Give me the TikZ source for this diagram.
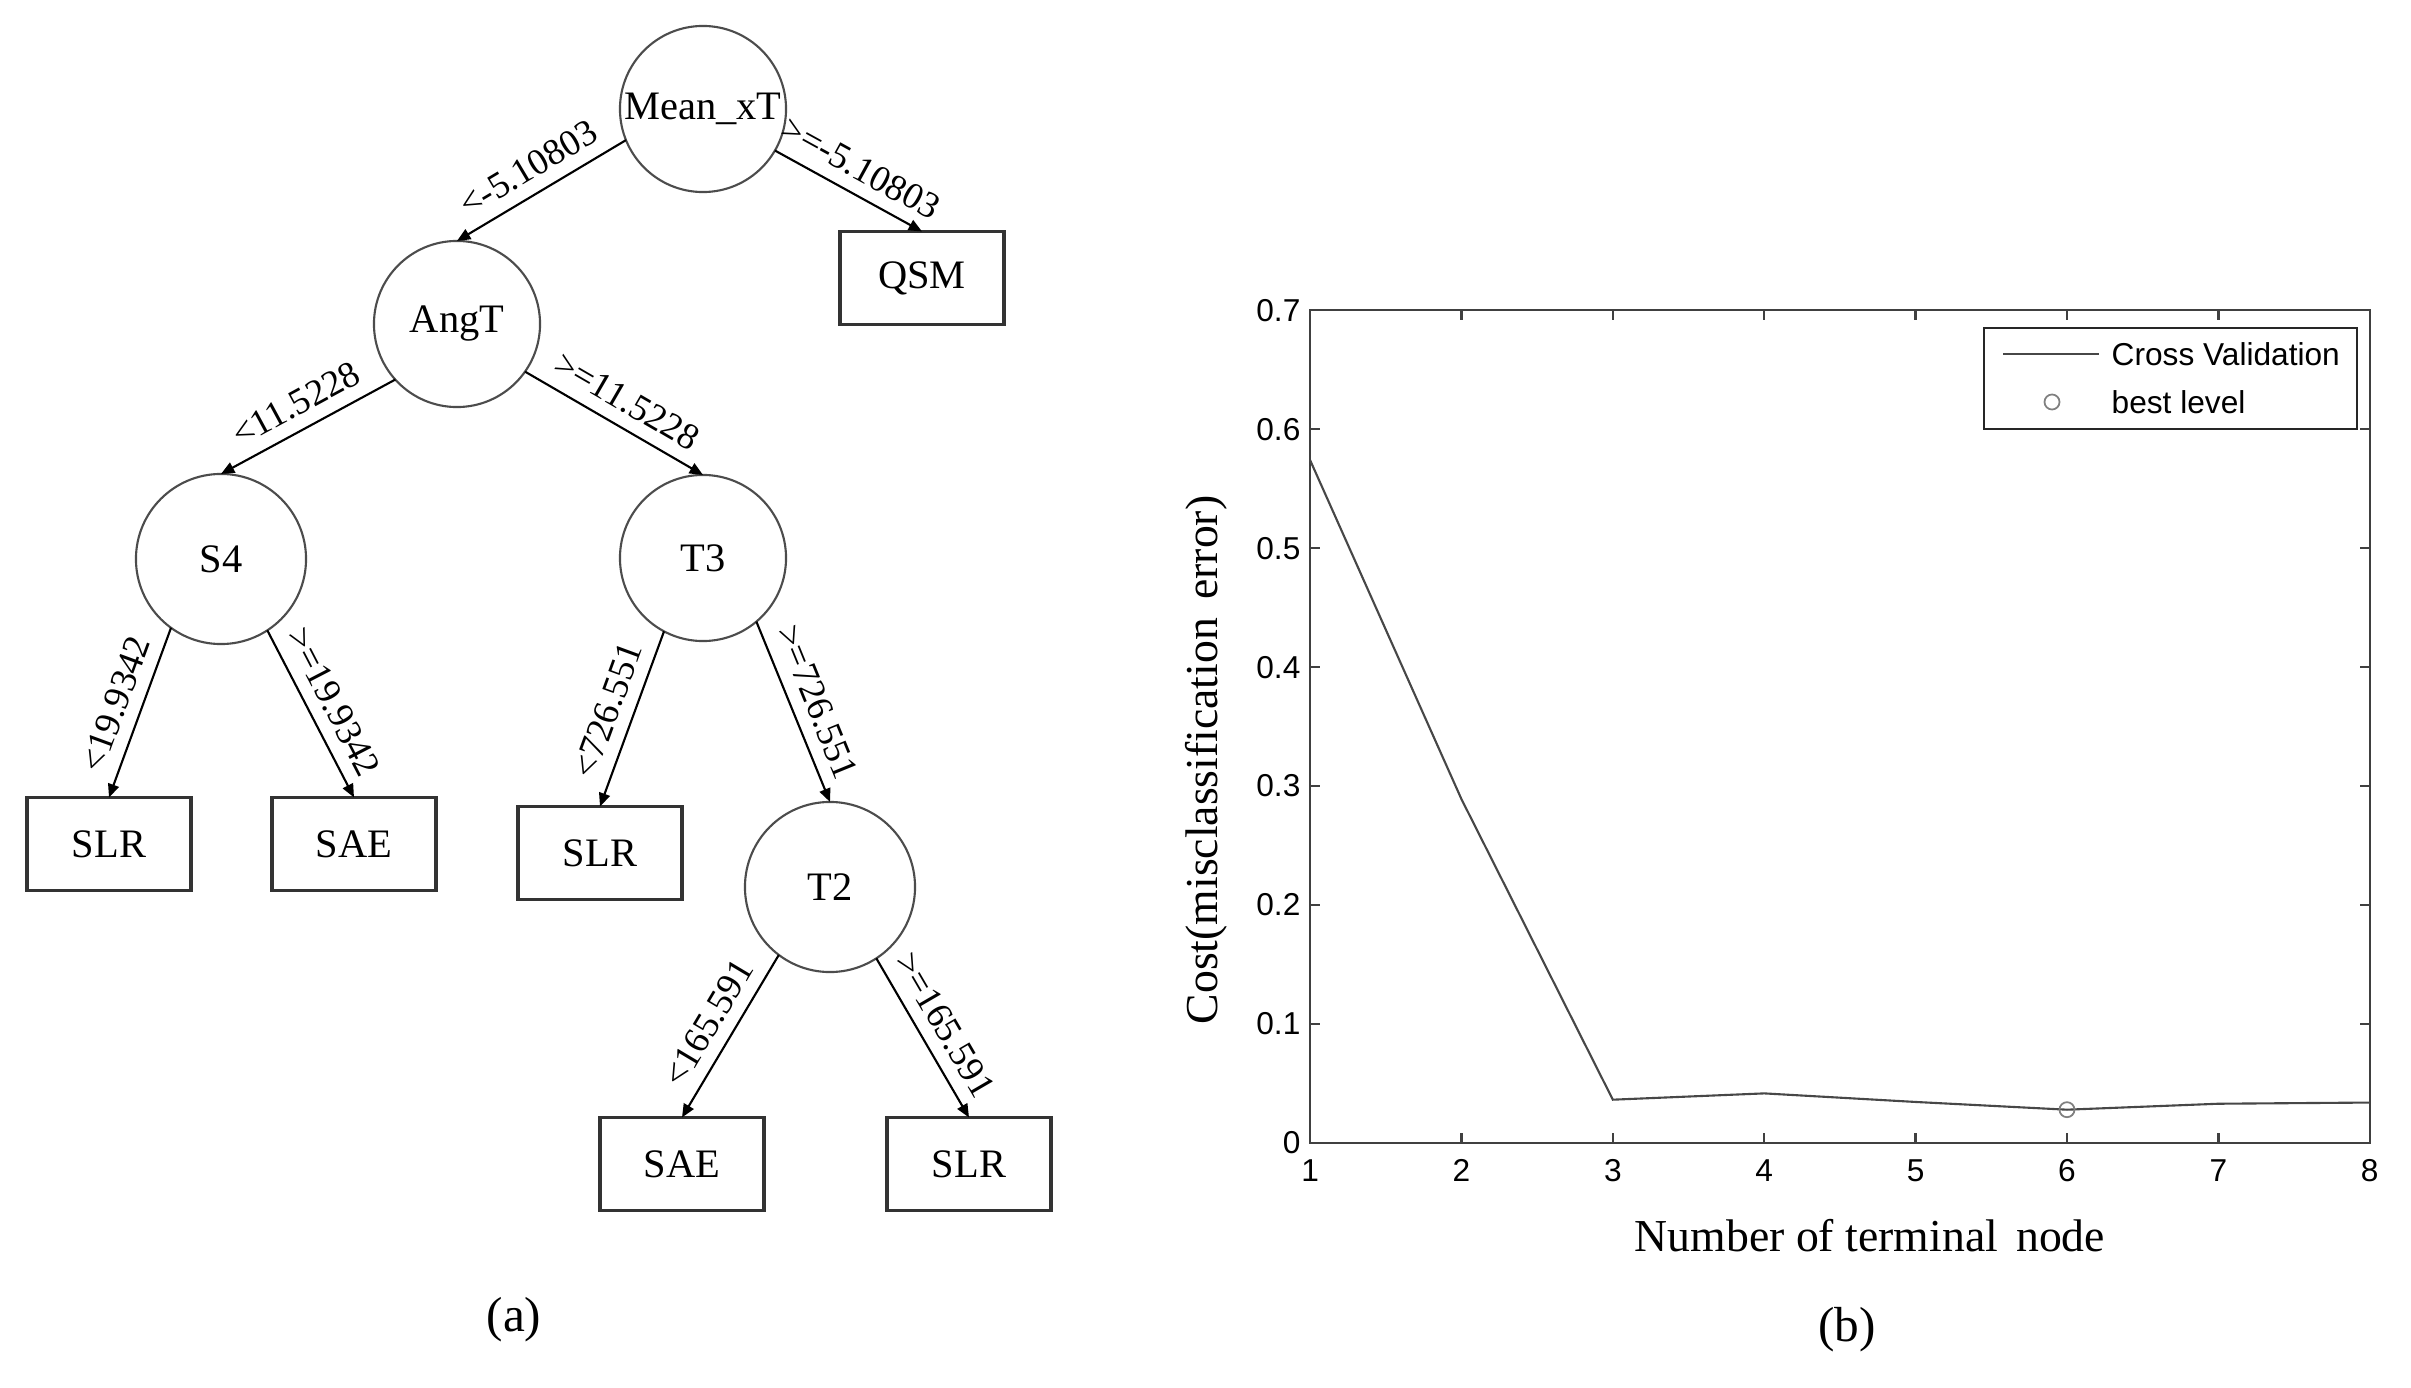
\documentclass[tikz,border=0pt]{standalone}
\usepackage{fontspec}
\setmainfont{Liberation Serif}
\newfontfamily\plotsans{Liberation Sans}
\usetikzlibrary{arrows.meta}
\begin{document}
\begin{tikzpicture}[x=0.01cm, y=-0.01cm,
  split/.style={circle, draw=black!70, line width=0.6pt, minimum size=1.66cm, inner sep=0pt, outer sep=0pt, font=\fontsize{11.5}{13}\selectfont},
  leaf/.style={rectangle, draw=black!80, line width=0.9pt, minimum width=1.64cm, minimum height=0.93cm, inner sep=0pt, outer sep=0pt, font=\fontsize{11.5}{13}\selectfont},
  edge/.style={-{Triangle[length=3.8pt,width=3.2pt]}, line width=0.6pt, black},
  elabel/.style={sloped, above=2.5pt, inner sep=1pt, font=\fontsize{10.5}{12}\selectfont},
  axisline/.style={draw=black!75, line width=0.7pt},
  curveline/.style={draw=black!72, line width=0.6pt},
  ticklab/.style={font=\plotsans\fontsize{9}{10}\selectfont, inner sep=0pt},
  caption/.style={font=\fontsize{14}{16}\selectfont, inner sep=0pt},
]
\useasboundingbox (0,0) rectangle (2411,1388);
\fill[white] (0,0) rectangle (2411,1388);

% ---------- (a) tree ----------
\node[split] (mean) at (703,109) {Mean\_xT};
\node[split] (ang) at (457,324) {AngT};
\node[leaf] (qsm) at (922,278) {QSM};
\node[split, minimum size=1.70cm] (s4) at (221,559) {S4};
\node[split] (t3) at (703,558) {T3};
\node[leaf] (slr1) at (109,844) {SLR};
\node[leaf] (sae1) at (354,844) {SAE};
\node[leaf] (slr2) at (600,853) {SLR};
\node[split, minimum size=1.70cm] (t2) at (830,887) {T2};
\node[leaf] (sae2) at (682,1164) {SAE};
\node[leaf] (slr3) at (969,1164) {SLR};

\draw[edge] (mean.202) -- node[elabel] (l1) {<-5.10803} (ang.north);
\draw[edge] (mean.330) -- node[elabel] (l2) {>=-5.10803} (qsm.north);
\draw[edge] (ang.222) -- node[elabel] (l3) {<11.5228} (s4.north);
\draw[edge] (ang.325) -- node[elabel] (l4) {>=11.5228} (t3.north);
\draw[edge] (s4.234) -- node[elabel] (l5) {<19.9342} (slr1.north);
\draw[edge] (s4.303) -- node[elabel] (l6) {>=19.9342} (sae1.north);
\draw[edge] (t3.242) -- node[elabel] (l7) {<726.551} (slr2.north);
\draw[edge] (t3.310) -- node[elabel] (l8) {>=726.551} (t2.north);
\draw[edge] (t2.233) -- node[elabel] (l9) {<165.591} (sae2.north);
\draw[edge] (t2.303) -- node[elabel] (l10) {>=165.591} (slr3.north);

\node[caption] (capa) at (514,1320) {(a)};

% ---------- (b) plot ----------
\begin{scope}[shift={(1158.71,1143)}, x=1.5129cm, y=11.89cm]
  \draw[axisline] (1,0) rectangle (8,0.7);
  \foreach \v in {2,...,7} {
    \draw[axisline] (\v,0) -- ++(0,0.0084);
    \draw[axisline] (\v,0.7) -- ++(0,-0.0084);
  }
  \foreach \c in {0.1,0.2,0.3,0.4,0.5,0.6} {
    \draw[axisline] (1,\c) -- ++(0.066,0);
    \draw[axisline] (8,\c) -- ++(-0.066,0);
  }
  \foreach \c/\t [count=\i] in {0/0,0.1/0.1,0.2/0.2,0.3/0.3,0.4/0.4,0.5/0.5,0.6/0.6,0.7/0.7} {
    \node[ticklab, anchor=east] (yl\i) at (0.9405,\c) {\t};
  }
  \foreach \v in {1,...,8} {
    \node[ticklab] (xl\v) at (\v,-0.0233) {\v};
  }
  \draw[curveline] plot coordinates {(1,0.574) (2,0.289) (3,0.0364) (4,0.0417) (5,0.0345) (6,0.028) (7,0.033) (8,0.034)};
  \node[circle, draw=black!50, line width=0.5pt, minimum size=0.15cm, inner sep=0pt] (best) at (6,0.028) {};
\end{scope}

% legend
\draw[draw=black!85, line width=0.7pt, fill=white] (1984,328) rectangle (2357,429);
\coordinate (legA) at (2003,354);
\coordinate (legB) at (2099,354);
\draw[curveline, line width=0.7pt] (legA) -- (legB);
\node[ticklab, anchor=west] (legt1) at (2111,354) {Cross Validation};
\node[circle, draw=black!50, line width=0.5pt, minimum size=0.15cm, inner sep=0pt] (legm) at (2052,402) {};
\node[ticklab, anchor=west] (legt2) at (2111,402) {best level};

% axis labels
\node[font=\fontsize{13}{15}\selectfont, inner sep=0pt] (xlab) at (1870,1236) {Number of terminal\hspace{0.4em}node};
\node[font=\fontsize{13}{15}\selectfont, inner sep=0pt, rotate=90] (ylab) at (1206,760) {Cost(misclassification\hspace{0.4em}error)};

\node[caption] (capb) at (1847,1330) {(b)};
\end{tikzpicture}
\end{document}
